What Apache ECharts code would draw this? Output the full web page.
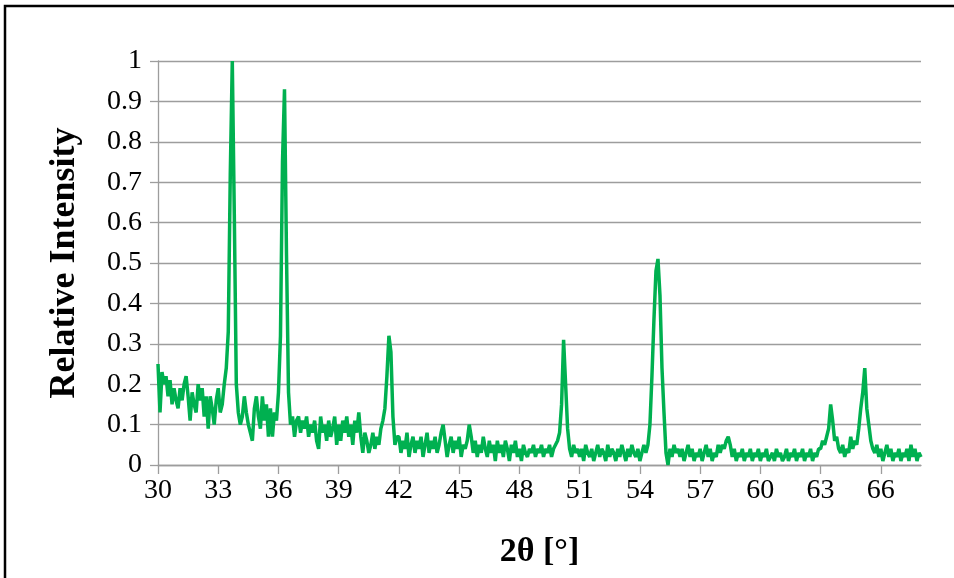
<!DOCTYPE html>
<html>
<head>
<meta charset="utf-8">
<script src="https://cdn.jsdelivr.net/npm/echarts@6/dist/echarts.min.js"></script>
<style>html,body{margin:0;padding:0;background:#fff;}#chart{width:954px;height:578px;}</style>
</head>
<body>
<div id="chart"></div>
<script>
// 2θ grid: start angle and step (degrees)
var angleStart = 30.0;
var angleStep = 0.1;
// Relative intensity, one row per degree (30.0 ... 67.9, then 68.0)
var intensity = [
  0.25,0.13,0.23,0.20,0.22,0.17,0.21,0.15,0.19,0.16, // 30
  0.14,0.19,0.16,0.20,0.22,0.17,0.11,0.18,0.15,0.13, // 31
  0.20,0.16,0.19,0.12,0.17,0.09,0.17,0.14,0.10,0.16, // 32
  0.19,0.13,0.15,0.20,0.24,0.33,0.72,1.00,0.62,0.20, // 33
  0.13,0.10,0.12,0.17,0.13,0.10,0.08,0.06,0.14,0.17, // 34
  0.12,0.09,0.17,0.11,0.15,0.07,0.14,0.07,0.13,0.11, // 35
  0.18,0.32,0.75,0.93,0.52,0.18,0.10,0.12,0.07,0.11, // 36
  0.12,0.08,0.11,0.09,0.12,0.07,0.10,0.08,0.11,0.06, // 37
  0.04,0.12,0.08,0.10,0.06,0.11,0.07,0.09,0.12,0.05, // 38
  0.10,0.06,0.11,0.08,0.12,0.07,0.10,0.05,0.11,0.08, // 39
  0.13,0.07,0.03,0.08,0.06,0.03,0.05,0.08,0.04,0.07, // 40
  0.05,0.09,0.11,0.14,0.22,0.32,0.28,0.12,0.05,0.07, // 41
  0.07,0.03,0.06,0.04,0.08,0.02,0.05,0.07,0.03,0.06, // 42
  0.04,0.07,0.02,0.05,0.08,0.03,0.06,0.04,0.07,0.03, // 43
  0.05,0.08,0.10,0.06,0.02,0.05,0.07,0.03,0.06,0.04, // 44
  0.07,0.02,0.05,0.04,0.06,0.10,0.07,0.03,0.06,0.02, // 45
  0.05,0.03,0.07,0.04,0.02,0.06,0.03,0.05,0.01,0.06, // 46
  0.03,0.05,0.02,0.06,0.04,0.01,0.05,0.03,0.06,0.02, // 47
  0.04,0.01,0.05,0.03,0.02,0.04,0.03,0.05,0.02,0.04, // 48
  0.03,0.05,0.02,0.04,0.03,0.05,0.02,0.04,0.05,0.06, // 49
  0.08,0.15,0.31,0.20,0.09,0.04,0.02,0.05,0.03,0.04, // 50
  0.02,0.04,0.01,0.05,0.03,0.02,0.04,0.01,0.03,0.05, // 51
  0.02,0.04,0.03,0.01,0.05,0.02,0.04,0.03,0.01,0.04, // 52
  0.02,0.05,0.03,0.01,0.04,0.02,0.05,0.03,0.02,0.04, // 53
  0.01,0.03,0.05,0.03,0.05,0.10,0.22,0.36,0.48,0.51, // 54
  0.42,0.24,0.13,0.03,0.00,0.04,0.02,0.05,0.03,0.04, // 55
  0.02,0.04,0.01,0.03,0.05,0.02,0.04,0.01,0.03,0.02, // 56
  0.04,0.01,0.03,0.05,0.02,0.04,0.01,0.03,0.02,0.05, // 57
  0.03,0.05,0.04,0.06,0.07,0.05,0.02,0.04,0.01,0.03, // 58
  0.02,0.04,0.01,0.03,0.02,0.04,0.01,0.03,0.02,0.04, // 59
  0.01,0.03,0.02,0.04,0.01,0.02,0.03,0.01,0.04,0.02, // 60
  0.03,0.01,0.02,0.04,0.01,0.03,0.02,0.04,0.01,0.03, // 61
  0.02,0.04,0.01,0.03,0.02,0.04,0.01,0.03,0.02,0.04, // 62
  0.04,0.06,0.05,0.07,0.09,0.15,0.11,0.06,0.07,0.04, // 63
  0.03,0.05,0.02,0.04,0.03,0.07,0.04,0.06,0.05,0.09, // 64
  0.14,0.18,0.24,0.14,0.10,0.06,0.04,0.03,0.05,0.02, // 65
  0.04,0.01,0.03,0.05,0.02,0.04,0.01,0.03,0.02,0.04, // 66
  0.01,0.03,0.02,0.04,0.01,0.05,0.02,0.04,0.01,0.03, // 67
  0.02                                                // 68
];
var xTicks = [30,33,36,39,42,45,48,51,54,57,60,63,66];
var yTickLabels = ['0','0.1','0.2','0.3','0.4','0.5','0.6','0.7','0.8','0.9','1'];
var xTitle = '2θ [°]';
var yTitle = 'Relative Intensity';

var points = intensity.map(function (v, i) {
  return [Math.round((angleStart + i * angleStep) * 10) / 10, v];
});

var chart = echarts.init(document.getElementById('chart'), null, {renderer: 'canvas'});
var font = '"Liberation Serif", "Times New Roman", serif';
var grey = '#9d9d9d';
chart.setOption({
  animation: false,
  backgroundColor: '#ffffff',
  graphic: [{
    type: 'rect', silent: true,
    shape: {x: 5, y: 6, width: 1200, height: 1200},
    style: {fill: 'none', stroke: '#000', lineWidth: 2.5}
  }],
  grid: {left: 158, right: 33, top: 61, bottom: 113, containLabel: false},
  xAxis: {
    type: 'value', min: 30, max: 68,
    name: xTitle, nameLocation: 'middle', nameGap: 70,
    nameTextStyle: {fontFamily: font, fontSize: 34, fontWeight: 'bold', color: '#000'},
    axisLine: {show: true, lineStyle: {color: grey, width: 1.3}},
    axisTick: {show: true, inside: false, length: 9, lineStyle: {color: grey, width: 1.3}, customValues: xTicks},
    axisLabel: {fontFamily: font, fontSize: 28, color: '#000', margin: 12, customValues: xTicks},
    splitLine: {show: false}
  },
  yAxis: {
    type: 'value', min: 0, max: 1, interval: 0.1,
    name: yTitle, nameLocation: 'middle', nameGap: 75, nameRotate: 90,
    nameTextStyle: {fontFamily: font, fontSize: 36, fontWeight: 'bold', color: '#000'},
    axisLine: {show: true, lineStyle: {color: grey, width: 1.3}},
    axisTick: {show: true, inside: false, length: 8, lineStyle: {color: grey, width: 1.3}},
    axisLabel: {fontFamily: font, fontSize: 28, color: '#000', margin: 16,
      formatter: function (v) { return yTickLabels[Math.round(v * 10)]; }},
    splitLine: {show: true, lineStyle: {color: grey, width: 1.3}}
  },
  series: [{
    type: 'line', data: points, showSymbol: false, symbol: 'none',
    lineStyle: {color: '#00b050', width: 3.5},
    itemStyle: {color: '#00b050'}
  }]
});
</script>
</body>
</html>
